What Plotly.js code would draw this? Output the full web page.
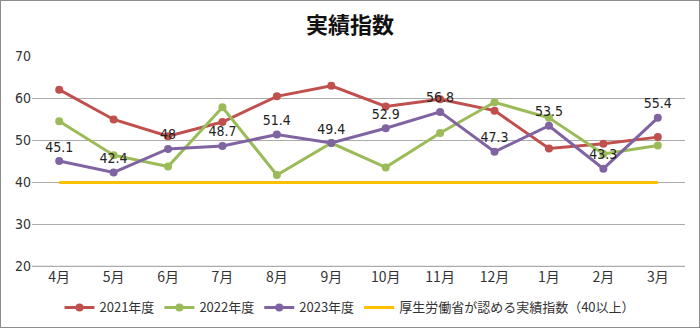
<!DOCTYPE html>
<html><head><meta charset="utf-8">
<script src="https://cdn.plot.ly/plotly-3.0.1.min.js"></script>
<style>
html,body{margin:0;padding:0;background:#fff;}
#chart{width:700px;height:328px;box-sizing:border-box;border:1px solid #8c8c8c;}
</style></head>
<body><div id="chart"></div>
<script>
const months = ['4月','5月','6月','7月','8月','9月','10月','11月','12月','1月','2月','3月'];
const fy2021 = [62.1, 55.0, 51.0, 54.4, 60.5, 63.0, 58.1, 59.8, 57.1, 48.1, 49.2, 50.8];
const fy2022 = [54.6, 46.5, 43.8, 57.9, 41.8, 49.4, 43.6, 51.8, 59.1, 55.4, 46.8, 48.8];
const fy2023 = [45.1, 42.4, 48, 48.7, 51.4, 49.4, 52.9, 56.8, 47.3, 53.5, 43.3, 55.4];
const standard = [40, 40, 40, 40, 40, 40, 40, 40, 40, 40, 40, 40];
const yTicks = [20, 30, 40, 50, 60, 70];
const names = ['2021年度','2022年度','2023年度','厚生労働省が認める実績指数（40以上）'];
const colors = ['#C0504D','#9BBB59','#8064A2','#FFC000'];

const numFont = '"Liberation Sans Narrow","DejaVu Sans Condensed","Noto Sans CJK JP",sans-serif';
const jpFont = '"Liberation Sans Narrow","Noto Sans CJK JP",sans-serif';

function series(y, i, extra) {
  return Object.assign({
    type: 'scatter', mode: 'lines+markers', x: months, y: y, name: names[i],
    line: {color: colors[i], width: 3},
    marker: {color: colors[i], size: 8},
    cliponaxis: false
  }, extra || {});
}

const traces = [
  series(fy2021, 0),
  series(fy2022, 1),
  series(fy2023, 2, {
    mode: 'lines+markers+text',
    text: fy2023.map(v => String(v)),
    textposition: 'top center',
    textfont: {family: numFont, size: 14, color: '#222'}
  }),
  {type: 'scatter', mode: 'lines', x: months, y: standard, name: names[3],
   line: {color: colors[3], width: 3}}
];

const layout = {
  width: 698, height: 326,
  margin: {l: 31, r: 14, t: 55, b: 60},
  paper_bgcolor: '#fff', plot_bgcolor: '#fff',
  title: {text: '実績指数', x: 0.5, xanchor: 'center', y: 0.925, yanchor: 'middle',
          font: {family: '"Noto Sans CJK JP",sans-serif', size: 22, color: '#111', weight: 'bold'}},
  font: {family: jpFont, size: 13, color: '#333'},
  xaxis: {type: 'category', range: [-0.5, 11.5], showgrid: false, zeroline: false,
          showline: false, ticks: '', tickfont: {family: jpFont, size: 14, color: '#333'}},
  yaxis: {range: [19.9, 70.1], tickvals: yTicks, gridcolor: '#ababab', gridwidth: 1.5, zeroline: false,
          showline: false, ticks: '', tickfont: {family: numFont, size: 14, color: '#333'}},
  shapes: [{type: 'line', layer: 'below', xref: 'paper', x0: 0, x1: 1, yref: 'y', y0: yTicks[0], y1: yTicks[0],
            line: {color: '#ababab', width: 1.5}}],
  showlegend: true,
  legend: {orientation: 'h', x: 0.5, xanchor: 'center', xref: 'container',
           y: 0.06, yanchor: 'middle', yref: 'container',
           font: {family: jpFont, size: 13, color: '#333'}, itemwidth: 30, tracegroupgap: 0}
};

Plotly.newPlot('chart', traces, layout, {displayModeBar: false, staticPlot: true});
</script></body></html>
